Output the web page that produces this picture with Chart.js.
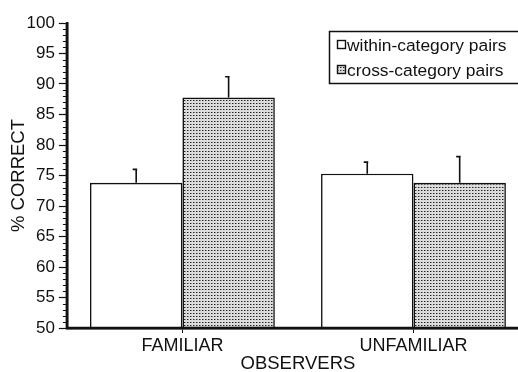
<!DOCTYPE html>
<html>
<head>
<meta charset="utf-8">
<script src="https://cdn.jsdelivr.net/npm/chart.js@4.4.0/dist/chart.umd.min.js"></script>
<style>
  html, body { margin: 0; padding: 0; background: #fff; overflow: hidden; }
  #wrap { width: 530px; height: 372px; position: relative; }
</style>
</head>
<body>
<div id="wrap"><canvas id="c"></canvas></div>
<script>
// Mean percent correct by observer group, with standard errors (upper bars only)
const categories = ['FAMILIAR', 'UNFAMILIAR'];
const withinValues = [73.8, 75.3];
const withinErrors = [2.2, 1.9];
const crossValues = [87.8, 73.8];
const crossErrors = [3.4, 4.3];
const seriesLabels = ['within-category pairs', 'cross-category pairs'];

const FONT = 'Liberation Sans, Arial, Helvetica, sans-serif';
const INK = '#111';

// Stipple fill for the cross-category bars
function makeStipple() {
  const t = document.createElement('canvas');
  t.width = 3; t.height = 3;
  const g = t.getContext('2d');
  g.fillStyle = '#dcdcdc';
  g.fillRect(0, 0, 3, 3);
  g.fillStyle = '#222';
  g.fillRect(1, 1, 1, 1);
  g.fillStyle = '#888';
  g.fillRect(2, 1, 1, 1);
  return g.createPattern(t, 'repeat');
}
const stipple = makeStipple();

// Upper error bars drawn from each dataset's error array; axes redrawn on top of the bars
const errorBars = {
  id: 'errorBars',
  afterDatasetsDraw(chart) {
    const ctx = chart.ctx;
    const y = chart.scales.y;
    const a = chart.chartArea;
    ctx.save();
    ctx.strokeStyle = INK;
    ctx.lineWidth = 1.6;
    chart.data.datasets.forEach((ds, di) => {
      const meta = chart.getDatasetMeta(di);
      meta.data.forEach((bar, i) => {
        const top = y.getPixelForValue(ds.data[i] + ds.errors[i]);
        ctx.beginPath();
        ctx.moveTo(bar.x, bar.y);
        ctx.lineTo(bar.x, top);
        ctx.moveTo(bar.x - 3.5, top);
        ctx.lineTo(bar.x + 1, top);
        ctx.stroke();
      });
    });
    ctx.lineWidth = 2.5;
    ctx.beginPath();
    ctx.moveTo(a.left - 1, a.bottom);
    ctx.lineTo(a.right + 2, a.bottom);
    ctx.moveTo(a.left, a.top);
    ctx.lineTo(a.left, a.bottom);
    ctx.stroke();
    ctx.restore();
  }
};

// Minor ticks on the value axis at every unit
const minorTicks = {
  id: 'minorTicks',
  afterDraw(chart) {
    const ctx = chart.ctx;
    const y = chart.scales.y;
    const x0 = chart.chartArea.left;
    ctx.save();
    ctx.strokeStyle = INK;
    ctx.lineWidth = 1;
    for (let v = y.min; v <= y.max; v++) {
      if (v % 5 === 0) continue;
      const py = Math.round(y.getPixelForValue(v)) + 0.5;
      ctx.beginPath();
      ctx.moveTo(x0 - 4, py);
      ctx.lineTo(x0, py);
      ctx.stroke();
    }
    ctx.restore();
  }
};

// Boxed legend in the upper right of the plot
const boxedLegend = {
  id: 'boxedLegend',
  afterDraw(chart) {
    const ctx = chart.ctx;
    const x = 329.5, yTop = 31.5, w = 200, h = 52;
    ctx.save();
    ctx.fillStyle = '#fff';
    ctx.fillRect(x, yTop, w, h);
    ctx.strokeStyle = INK;
    ctx.lineWidth = 1.5;
    ctx.strokeRect(x, yTop, w, h);
    ctx.font = '17.4px ' + FONT;
    ctx.textBaseline = 'middle';
    chart.data.datasets.forEach((ds, i) => {
      const cy = 45 + i * 25;
      ctx.fillStyle = ds.backgroundColor;
      ctx.fillRect(337.5, cy - 4.5, 8, 8);
      ctx.lineWidth = 1.4;
      ctx.strokeRect(337.5, cy - 4.5, 8, 8);
      ctx.fillStyle = INK;
      ctx.fillText(ds.label, 347, cy + 1);
    });
    ctx.restore();
  }
};

new Chart(document.getElementById('c'), {
  type: 'bar',
  data: {
    labels: categories,
    datasets: [
      {
        label: seriesLabels[0],
        data: withinValues,
        errors: withinErrors,
        backgroundColor: '#ffffff',
        borderColor: INK,
        borderWidth: 1.6
      },
      {
        label: seriesLabels[1],
        data: crossValues,
        errors: crossErrors,
        backgroundColor: stipple,
        borderColor: INK,
        borderWidth: 1.6
      }
    ]
  },
  options: {
    responsive: true,
    maintainAspectRatio: false,
    animation: false,
    datasets: { bar: { categoryPercentage: 0.8, barPercentage: 1.0 } },
    layout: { padding: { top: 23, right: 1, left: 0, bottom: 0 } },
    plugins: {
      legend: { display: false },
      tooltip: { enabled: false }
    },
    scales: {
      x: {
        grid: { display: true, drawOnChartArea: false, offset: false, tickLength: 5, color: INK, tickWidth: 1 },
        border: { display: true, color: INK, width: 2.5 },
        ticks: { color: INK, font: { family: FONT, size: 18, lineHeight: 1 }, padding: 4 },
        title: { display: true, text: 'OBSERVERS', color: INK, font: { family: FONT, size: 18.5, lineHeight: 1 }, padding: { top: -4.25, bottom: -1.25 } }
      },
      y: {
        min: 50,
        max: 100,
        grid: { display: true, drawOnChartArea: false, tickLength: 8, color: INK, tickWidth: 1.2 },
        border: { display: true, color: INK, width: 2.5 },
        ticks: { stepSize: 5, color: INK, font: { family: FONT, size: 17 }, padding: 4 },
        title: { display: true, text: '% CORRECT', color: INK, font: { family: FONT, size: 18.5, lineHeight: 1 }, padding: { top: 10, bottom: -6 } }
      }
    }
  },
  plugins: [errorBars, minorTicks, boxedLegend]
});
</script>
</body>
</html>
